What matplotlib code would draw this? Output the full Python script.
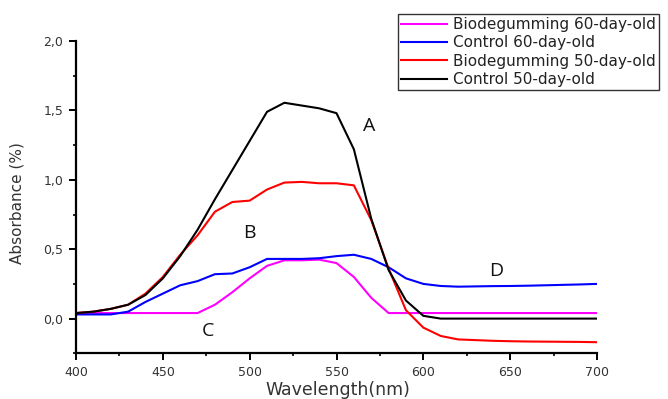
"""
Absorbance spectra of control and biodegummed samples.
"""
import matplotlib
matplotlib.use("Agg")
import matplotlib.pyplot as plt
from matplotlib.ticker import FuncFormatter, MultipleLocator

wavelength = [400, 410, 420, 430, 440, 450, 460, 470, 480, 490, 500, 510, 520, 530, 540,
              550, 560, 570, 580, 590, 600, 610, 620, 630, 640, 650, 660, 670, 680, 690, 700]

bio_60 = [0.04, 0.04, 0.04, 0.04, 0.04, 0.04, 0.04, 0.04, 0.10, 0.19, 0.29, 0.38, 0.42, 0.42, 0.425,
          0.40, 0.30, 0.15, 0.04, 0.04, 0.04, 0.04, 0.04, 0.04, 0.04, 0.04, 0.04, 0.04, 0.04, 0.04, 0.04]
control_60 = [0.03, 0.03, 0.03, 0.05, 0.12, 0.18, 0.24, 0.27, 0.32, 0.325, 0.37, 0.43, 0.43, 0.43, 0.435,
              0.45, 0.46, 0.43, 0.37, 0.29, 0.25, 0.235, 0.23, 0.232, 0.234, 0.235, 0.237, 0.24, 0.243, 0.246, 0.25]
bio_50 = [0.04, 0.05, 0.07, 0.10, 0.18, 0.30, 0.46, 0.60, 0.77, 0.84, 0.85, 0.93, 0.98, 0.985, 0.975,
          0.975, 0.96, 0.71, 0.36, 0.06, -0.065, -0.125, -0.15, -0.155, -0.16, -0.163, -0.165, -0.166, -0.167, -0.168, -0.17]
control_50 = [0.04, 0.05, 0.07, 0.10, 0.17, 0.29, 0.45, 0.64, 0.86, 1.07, 1.28, 1.49, 1.555, 1.535, 1.515,
              1.48, 1.22, 0.72, 0.35, 0.13, 0.02, 0.0, 0.0, 0.0, 0.0, 0.0, 0.0, 0.0, 0.0, 0.0, 0.0]

series = [
    ("Biodegumming 60-day-old", bio_60, "#ff00ff"),
    ("Control 60-day-old", control_60, "#0000ff"),
    ("Biodegumming 50-day-old", bio_50, "#ff0000"),
    ("Control 50-day-old", control_50, "#000000"),
]

curve_labels = ["A", "B", "C", "D"]
label_x = [569, 500, 476, 642]
label_y = [1.39, 0.62, -0.09, 0.34]

fig = plt.figure(figsize=(6.68, 3.99), dpi=100)
ax = fig.add_axes([76 / 668, 1 - 353.3 / 399, 521 / 668, 312.3 / 399])

lines = []
for name, vals, col in series:
    ln, = ax.plot(wavelength, vals, color=col, lw=1.5, label=name)
    lines.append(ln)

for txt, lx, ly in zip(curve_labels, label_x, label_y):
    ax.text(lx, ly, txt, fontsize=14, ha="center", va="center", color="#111111",
            family="Open Sans")

ax.set_xlim(400, 700)
ax.set_ylim(-0.25, 2.0)
ax.xaxis.set_major_locator(MultipleLocator(50))
ax.xaxis.set_minor_locator(MultipleLocator(25))
ax.yaxis.set_major_locator(MultipleLocator(0.5))
ax.yaxis.set_minor_locator(MultipleLocator(0.25))
ax.yaxis.set_major_formatter(FuncFormatter(lambda v, p: f"{v:.1f}".replace(".", ",")))

for side in ["top", "right"]:
    ax.spines[side].set_visible(False)
for side in ["left", "bottom"]:
    ax.spines[side].set_linewidth(1.6)

ax.tick_params(which="major", direction="out", length=5, width=1.4, pad=4,
               labelsize=9, labelcolor="#333333")
ax.tick_params(which="minor", direction="out", length=2.5, width=1.2)

ax.set_xlabel("Wavelength(nm)", fontsize=12.5, color="#333333", va="center")
ax.xaxis.set_label_coords(0.502, -0.1175)
ax.set_ylabel("Absorbance (%)", fontsize=11, color="#333333", va="center")
ax.yaxis.set_label_coords(-0.113, 0.481)

leg = fig.legend(handles=lines, loc="upper left", bbox_to_anchor=(398 / 668, 1 - 14 / 399),
                 handlelength=3.0, handletextpad=0.4, labelspacing=0.22,
                 borderpad=0.2, borderaxespad=0, fancybox=False, framealpha=1,
                 prop={"family": "DejaVu Sans", "size": 11})
leg.get_frame().set_edgecolor("#333333")
leg.get_frame().set_linewidth(1.0)
for t in leg.get_texts():
    t.set_color("#222222")

fig.savefig("out.png", dpi=100)
